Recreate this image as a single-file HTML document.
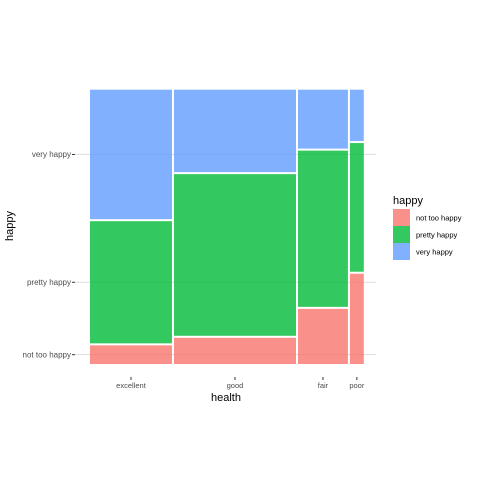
<!DOCTYPE html>
<html><head><meta charset="utf-8"><style>
body{margin:0;background:#fff;font-family:"Liberation Sans",sans-serif}
</style></head><body>
<svg id="c" width="480" height="480" xmlns="http://www.w3.org/2000/svg">
<g id="grid"></g><g id="tiles"></g><g id="axes"></g>
<text x="226" y="401" font-size="11" fill="#000" text-anchor="middle">health</text>
<text transform="translate(13,226) rotate(-90)" font-size="11" fill="#000" text-anchor="middle">happy</text>
<g id="legend">
<text x="393" y="204" font-size="11" fill="#000">happy</text>
</g>
</svg>
<script>
const categories=["excellent","good","fair","poor"];
const levels=["not too happy","pretty happy","very happy"];
const colWidths=[0.307,0.457,0.187,0.052];
const notTooHappy=[0.069,0.097,0.204,0.334];
const prettyHappy=[0.452,0.598,0.578,0.476];
const veryHappy=[0.479,0.305,0.218,0.190];
const colors=["#F8766D","#00BA38","#619CFF"];
const NS="http://www.w3.org/2000/svg";
const x0=90,x1=363,y0=89.7,y1=364,gap=2;
const series=[notTooHappy,prettyHappy,veryHappy];
function mk(t,a,p){const e=document.createElementNS(NS,t);for(const k in a)e.setAttribute(k,a[k]);p.appendChild(e);return e;}
const tiles=document.getElementById('tiles'),axes=document.getElementById('axes'),grid=document.getElementById('grid');
const usableW=(x1-x0)-gap*(categories.length-1);
const usableH=(y1-y0)-gap*(levels.length-1);
function xScale(f){return f*usableW;}
function yScale(f){return f*usableH;}
let cx=x0;const firstMids=[];
categories.forEach((c,i)=>{
  const w=xScale(colWidths[i]);
  let cy=y1;
  series.forEach((s,j)=>{
    const h=yScale(s[i]);
    const r=mk('rect',{x:cx,y:cy-h,width:w,height:h,fill:colors[j],'fill-opacity':0.8},tiles);
    
    
    if(i===0)firstMids.push(cy-h/2);
    cy-=h+gap;
  });
  const mx=cx+w/2;
  const tk=mk('line',{x1:mx,x2:mx,y1:377,y2:380,stroke:'#333','stroke-width':1},axes);
  
  const t=mk('text',{x:mx,y:388,'font-size':7.5,fill:'#4d4d4d','text-anchor':'middle'},axes);
  t.textContent=c;
  
  cx+=w+gap;
});
levels.forEach((l,j)=>{
  const y=firstMids[j];
  const g=mk('line',{x1:75,x2:376,y1:y,y2:y,stroke:'#ddd','stroke-width':1},grid);
  
  const tk=mk('line',{x1:72,x2:75,y1:y,y2:y,stroke:'#333','stroke-width':1},axes);
  
  const t=mk('text',{x:71,y:y+2.8,'font-size':8,fill:'#4d4d4d','text-anchor':'end'},axes);
  t.textContent=l;
  
});
const lg=document.getElementById('legend');
levels.forEach((l,j)=>{
  const y=209+j*17;
  const r=mk('rect',{x:393,y:y,width:17,height:17,fill:colors[j],'fill-opacity':0.8},lg);
  
  const t=mk('text',{x:416,y:y+11.5,'font-size':7.5,fill:'#000'},lg);
  t.textContent=l;
  
});
</script>
</body></html>
